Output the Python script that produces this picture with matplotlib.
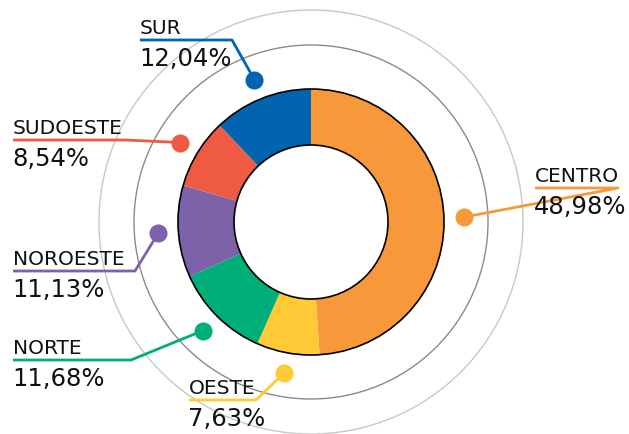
import numpy as np
import matplotlib.pyplot as plt
from matplotlib.patches import Circle

regions = ["CENTRO", "OESTE", "NORTE", "NOROESTE", "SUDOESTE", "SUR"]
shares = [48.98, 7.63, 11.68, 11.13, 8.54, 12.04]
colors = ["#F7993A", "#FFCA35", "#00AE7A", "#7B62A9", "#EF5B42", "#0064B1"]

# label layout: (text x, leader line y, line start x, line end x) in pixels from top-left
label_pos = {
    "CENTRO":   (535, 188, 535, 618),
    "OESTE":    (189, 400, 189, 256),
    "NORTE":    (13, 360, 13, 131),
    "NOROESTE": (13, 271, 13, 135),
    "SUDOESTE": (13, 140, 13, 126),
    "SUR":      (140, 40, 140, 232),
}

W, H = 629, 434
cx, cy = 311, H - 222
r_out, r_in = 133, 77

plt.rcParams['font.family'] = ['DejaVu Sans']

fig = plt.figure(figsize=(W / 100, H / 100), dpi=100)
ax = fig.add_axes([0, 0, 1, 1])

# guide rings
ax.add_patch(Circle((cx, cy), 212, fill=False, ec="#c8c8c8", lw=1.0))
ax.add_patch(Circle((cx, cy), 177, fill=False, ec="#8a8a8a", lw=1.0))

wedges, _ = ax.pie(shares, colors=colors, startangle=90, counterclock=False,
                   center=(cx, cy), radius=r_out, frame=True,
                   wedgeprops=dict(width=r_out - r_in, linewidth=0))
ax.add_patch(Circle((cx, cy), r_out, fill=False, ec="black", lw=1.2))
ax.add_patch(Circle((cx, cy), r_in, fill=False, ec="black", lw=1.2))

for w, name, val, col in zip(wedges, regions, shares, colors):
    ang = np.deg2rad((w.theta1 + w.theta2) / 2)
    dx, dy = cx + 153 * np.cos(ang), cy + 153 * np.sin(ang)
    tx, ly, x0, x1 = label_pos[name]
    ly = H - ly
    ax.plot([x0, x1, dx], [ly, ly, dy], color=col, lw=2, solid_capstyle="butt", zorder=3)
    ax.plot(dx, dy, "o", color=col, ms=12, zorder=4)
    ax.text(tx, ly + 6, name, fontsize=14.5, color="#111111", va="baseline", ha="left")
    ax.text(tx - 1, ly - 26, f"{val:.2f}%".replace(".", ","), fontsize=17.5,
            color="#111111", va="baseline", ha="left")

ax.set_xlim(0, W)
ax.set_ylim(0, H)
ax.set_aspect("equal")
ax.axis("off")

fig.savefig("out.png", dpi=100)
